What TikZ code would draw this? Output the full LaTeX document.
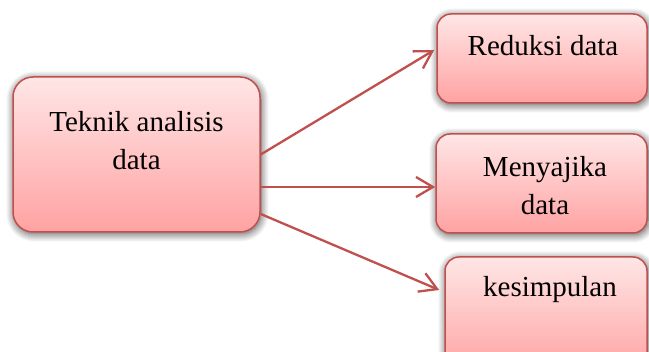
\documentclass[tikz,border=0pt]{standalone}
\usepackage{fontspec}
\setmainfont{Liberation Serif}
\usetikzlibrary{arrows.meta,calc,shadows.blur}
\definecolor{bord}{HTML}{C0504D}
\definecolor{ftop}{HTML}{FFE6E6}
\definecolor{fbot}{HTML}{FFA2A2}
\begin{document}
\begin{tikzpicture}[x=1pt,y=1pt,
  box/.style={draw=bord, line width=1.5pt, top color=ftop, bottom color=fbot,
    blur shadow={shadow xshift=1pt, shadow yshift=-2pt, shadow blur radius=8pt, shadow opacity=70, shadow blur steps=10},
    inner sep=0pt},
  lbl/.style={font=\fontsize{29}{38}\selectfont, align=center, inner sep=0pt},
  conn/.style={draw=bord, line width=2.3pt, -{Straight Barb[length=17pt,width=20pt]}}]
\useasboundingbox (0,0) rectangle (649,352);
\node[box, rounded corners=20pt, minimum width=247pt, minimum height=155pt] (main) at (136.5,197.5) {};
\node[lbl] (mainlbl) at (136.5,211) {Teknik analisis\\data};
\node[box, rounded corners=14pt, minimum width=210pt, minimum height=89pt] (red) at (542,293.5) {};
\node[lbl] (redlbl) at (543,306) {Reduksi data};
\node[box, rounded corners=14pt, minimum width=211pt, minimum height=99pt] (men) at (541.5,168.5) {};
\node[lbl] (menlbl) at (545,166) {Menyajika\\data};
\node[box, rounded corners=14pt, minimum width=202pt, minimum height=117pt] (kes) at (546,36.5) {};
\node[lbl] (keslbl) at (550,62) {kesimpulan};
\draw[conn] (main.east) -- ($(red.west)+(-2,8.5)$);
\draw[conn] ($(main.east)+(0,-32.5)$) -- ($(men.west)+(0,-3.5)$);
\draw[conn] ($(main.east)+(0,-59.5)$) -- ($(kes.west)+(-5,25.5)$);
\end{tikzpicture}
\end{document}
